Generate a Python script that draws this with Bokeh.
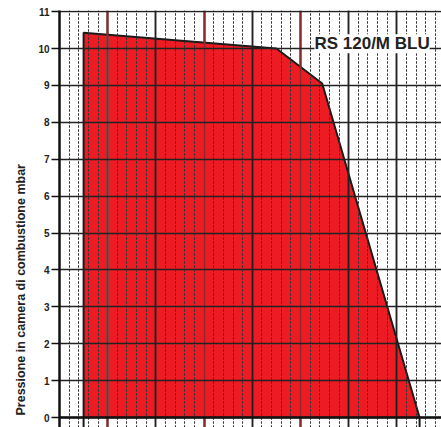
from bokeh.plotting import figure
from bokeh.models import Range1d, Span, Label, Grid, FixedTicker, Title
from bokeh.embed import file_html
from bokeh.resources import INLINE

# Working field outline: burner output (grid units) vs. combustion chamber pressure (mbar)
output = [0.5, 0.5, 4.5, 5.45, 7.47]
pressure_mbar = [0.0, 10.43, 10.0, 9.05, 0.0]

pressure_ticks = list(range(0, 12))
major_dark = [2, 4, 6, 7]
major_grey = [1, 3, 5]
minor_lines = [round(i * 0.2, 1) for i in range(0, 40) if i % 5 != 0]

model_name = "RS 120/M BLU"
y_title = "Pressione in camera di combustione mbar"

FONT = "Liberation Sans"

p = figure(width=441, height=427, output_backend="svg", toolbar_location=None,
           x_range=Range1d(0, 7.925), y_range=Range1d(-0.27, 11.03),
           min_border_left=59, min_border_right=0, min_border_top=10, min_border_bottom=0)
p.outline_line_color = None
p.xaxis.visible = False
p.xgrid.visible = False
p.ygrid.visible = False

# y axis
ax = p.yaxis[0]
ax.ticker = FixedTicker(ticks=pressure_ticks)
ax.axis_line_width = 2.5
ax.axis_line_color = "#111111"
ax.major_tick_line_color = "#111111"
ax.major_tick_line_width = 1.5
ax.major_tick_out = 8
ax.major_tick_in = 0
ax.minor_tick_line_color = None
ax.major_label_standoff = 2
ax.major_label_text_font = FONT
ax.major_label_text_font_style = "bold"
ax.major_label_text_font_size = "10px"
ax.major_label_text_color = "#222222"

# vertical axis title, placed low along the axis
p.add_layout(Title(text=y_title, align="left", offset=12, standoff=15,
                   text_font=FONT, text_font_style="bold", text_font_size="12.5px",
                   text_color="#222222"), "left")

# vertical grid on white: dotted minor, grey and dark solid majors
p.add_layout(Grid(dimension=0, ticker=FixedTicker(ticks=minor_lines),
                  grid_line_color="#333333", grid_line_width=1, grid_line_dash="2 2"))
p.add_layout(Grid(dimension=0, ticker=FixedTicker(ticks=major_grey),
                  grid_line_color="#7a7a7a", grid_line_width=2.2))
p.add_layout(Grid(dimension=0, ticker=FixedTicker(ticks=major_dark),
                  grid_line_color="#222222", grid_line_width=1.5))

# working field
p.patch(output, pressure_mbar, fill_color="#ED1C24", line_color=None, level="underlay")
# grid again on top of the fill
p.add_layout(Grid(dimension=0, ticker=FixedTicker(ticks=minor_lines),
                  grid_line_color="#333333", grid_line_width=1, grid_line_dash="2 2", level="glyph"))
p.add_layout(Grid(dimension=0, ticker=FixedTicker(ticks=major_grey),
                  grid_line_color="#8a2a2a", grid_line_width=2.2, level="glyph"))
p.add_layout(Grid(dimension=0, ticker=FixedTicker(ticks=major_dark),
                  grid_line_color="#222222", grid_line_width=1.5, level="glyph"))
p.add_layout(Grid(dimension=1, ticker=FixedTicker(ticks=pressure_ticks),
                  grid_line_color="#222222", grid_line_width=1.6, level="glyph"))

p.line(output, pressure_mbar, line_color="#1a1a1a", line_width=2)
# outline edges carried below the base line
p.segment(x0=[output[0], output[-1]], y0=[-0.27, -0.27],
          x1=[output[0], output[-1]], y1=[pressure_mbar[0], pressure_mbar[-1]],
          line_color="#1a1a1a", line_width=2)

p.add_layout(Span(location=0, dimension="width", line_color="#111111", line_width=2.5))

p.add_layout(Label(x=7.68, y=10.13, text=model_name, text_align="right", text_baseline="middle",
                   text_font=FONT, text_font_style="bold", text_font_size="17px",
                   text_color="#222222", background_fill_color="white"))

open("out.html", "w").write(file_html(p, INLINE))
